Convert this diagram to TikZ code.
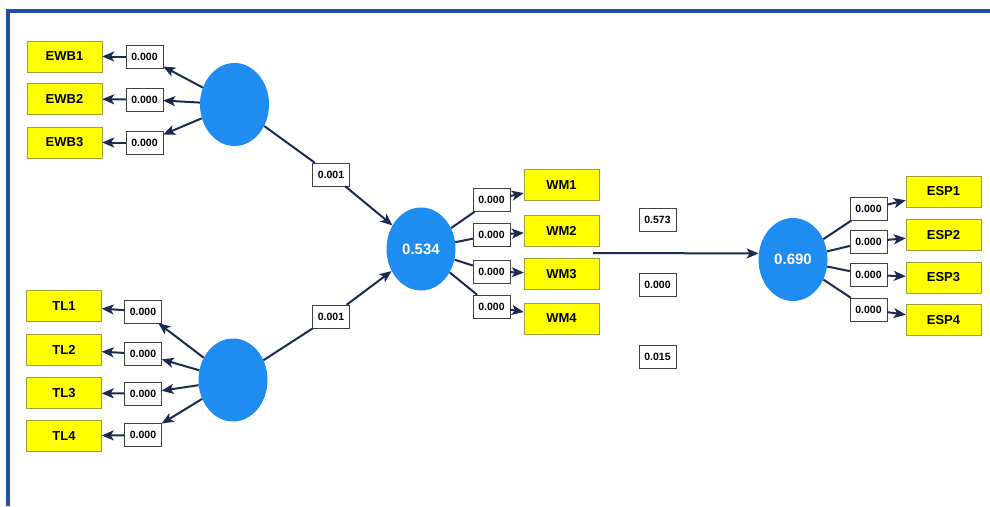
\documentclass[tikz,border=0pt]{standalone}
\usepackage{fontspec}
\setmainfont{Liberation Sans}
\usetikzlibrary{shapes.geometric}
\usetikzlibrary{arrows.meta}

\definecolor{frameblue}{HTML}{1F4F9E}
\definecolor{latentblue}{HTML}{1E8CF0}
\definecolor{boxyellow}{HTML}{FFFF00}
\definecolor{boxedge}{HTML}{9E9E3A}
\definecolor{linknavy}{HTML}{1B2A4E}

\begin{document}
\begin{tikzpicture}[x=1pt,y=-1pt,
    latent/.style={ellipse,fill=latentblue,minimum width=69pt,minimum height=83pt,
        inner sep=0pt,text=white,font=\fontsize{15}{15}\selectfont\bfseries},
    indicator/.style={draw=boxedge,fill=boxyellow,minimum width=75pt,minimum height=31pt,
        inner sep=0pt,font=\fontsize{13}{13}\selectfont\bfseries},
    weight/.style={draw=black!75,fill=white,minimum width=37pt,minimum height=23pt,
        inner sep=0pt,font=\fontsize{10.5}{10.5}\selectfont\bfseries},
    link/.style={draw=linknavy,line width=2pt},
    arrowlink/.style={link,-{Stealth[length=12pt,width=10pt,inset=3pt]}}]
\useasboundingbox (0,0) rectangle (990,506);

% frame
\draw[frameblue,line width=3.5pt] (8,506) -- (8,11) -- (990,11);

% latent variables
\node[latent] (ewb) at (234.5,104.5) {};
\node[latent] (tl) at (233,380) {};
\node[latent] (wm) at (421,249) {0.534};
\node[latent] (esp) at (793,259.5) {0.690};

% EWB block
\node[indicator] (ewb1) at (64.5,56.5) {EWB1};
\node[indicator] (ewb2) at (64.5,99) {EWB2};
\node[indicator] (ewb3) at (64.5,142.5) {EWB3};
\node[weight] (ewbv1) at (144.5,56.5) {0.000};
\node[weight] (ewbv2) at (144.5,99.5) {0.000};
\node[weight] (ewbv3) at (144.5,142.5) {0.000};

% TL block
\node[indicator] (tl1) at (64,306) {TL1};
\node[indicator] (tl2) at (64,349.5) {TL2};
\node[indicator] (tl3) at (64,393) {TL3};
\node[indicator] (tl4) at (64,436) {TL4};
\node[weight] (tlv1) at (143,311.5) {0.000};
\node[weight] (tlv2) at (143,354) {0.000};
\node[weight] (tlv3) at (143,393.5) {0.000};
\node[weight] (tlv4) at (143,435) {0.000};

% paths into WM
\node[weight] (pewb) at (331,174.5) {0.001};
\node[weight] (ptl) at (331,316.5) {0.001};

% WM block
\node[indicator] (wm1) at (561.5,185) {WM1};
\node[indicator] (wm2) at (561.5,230.5) {WM2};
\node[indicator] (wm3) at (561.5,274) {WM3};
\node[indicator] (wm4) at (561.5,318.5) {WM4};
\node[weight] (wmv1) at (491.5,200) {0.000};
\node[weight] (wmv2) at (491.5,235) {0.000};
\node[weight] (wmv3) at (491.5,271.5) {0.000};
\node[weight] (wmv4) at (491.5,306.5) {0.000};

% free values
\node[weight] (pa) at (657.5,219.5) {0.573};
\node[weight] (pb) at (657.5,285) {0.000};
\node[weight] (pc) at (657.5,356.5) {0.015};

% ESP block
\node[indicator] (esp1) at (943.5,191.5) {ESP1};
\node[indicator] (esp2) at (943.5,235) {ESP2};
\node[indicator] (esp3) at (943.5,277.5) {ESP3};
\node[indicator] (esp4) at (943.5,320) {ESP4};
\node[weight] (espv1) at (868.5,209) {0.000};
\node[weight] (espv2) at (868.5,241.5) {0.000};
\node[weight] (espv3) at (868.5,275) {0.000};
\node[weight] (espv4) at (868.5,309.5) {0.000};

% outer loadings, left
\draw[arrowlink] (ewb) -- (ewbv1);
\draw[arrowlink] (ewb) -- (ewbv2);
\draw[arrowlink] (ewb) -- (ewbv3);
\draw[arrowlink] (ewbv1) -- (ewb1);
\draw[arrowlink] (ewbv2) -- (ewb2);
\draw[arrowlink] (ewbv3) -- (ewb3);

\draw[arrowlink] (tl) -- (tlv1);
\draw[arrowlink] (tl) -- (tlv2);
\draw[arrowlink] (tl) -- (tlv3);
\draw[arrowlink] (tl) -- (tlv4);
\draw[arrowlink] (tlv1) -- (tl1);
\draw[arrowlink] (tlv2) -- (tl2);
\draw[arrowlink] (tlv3) -- (tl3);
\draw[arrowlink] (tlv4) -- (tl4);

% inner paths
\draw[link] (ewb) -- (pewb);
\draw[arrowlink] (pewb) -- (wm);
\draw[link] (tl) -- (ptl);
\draw[arrowlink] (ptl) -- (wm);

\coordinate (wmout) at (593,253);
\draw[arrowlink] (wmout) -- (esp.170);

% outer loadings, right
\draw[link] (wm) -- (wmv1);
\draw[link] (wm) -- (wmv2);
\draw[link] (wm) -- (wmv3);
\draw[link] (wm) -- (wmv4);
\draw[arrowlink] (wmv1) -- (wm1);
\draw[arrowlink] (wmv2) -- (wm2);
\draw[arrowlink] (wmv3) -- (wm3);
\draw[arrowlink] (wmv4) -- (wm4);

\draw[link] (esp) -- (espv1);
\draw[link] (esp) -- (espv2);
\draw[link] (esp) -- (espv3);
\draw[link] (esp) -- (espv4);
\draw[arrowlink] (espv1) -- (esp1);
\draw[arrowlink] (espv2) -- (esp2);
\draw[arrowlink] (espv3) -- (esp3);
\draw[arrowlink] (espv4) -- (esp4);

\end{tikzpicture}
\end{document}
